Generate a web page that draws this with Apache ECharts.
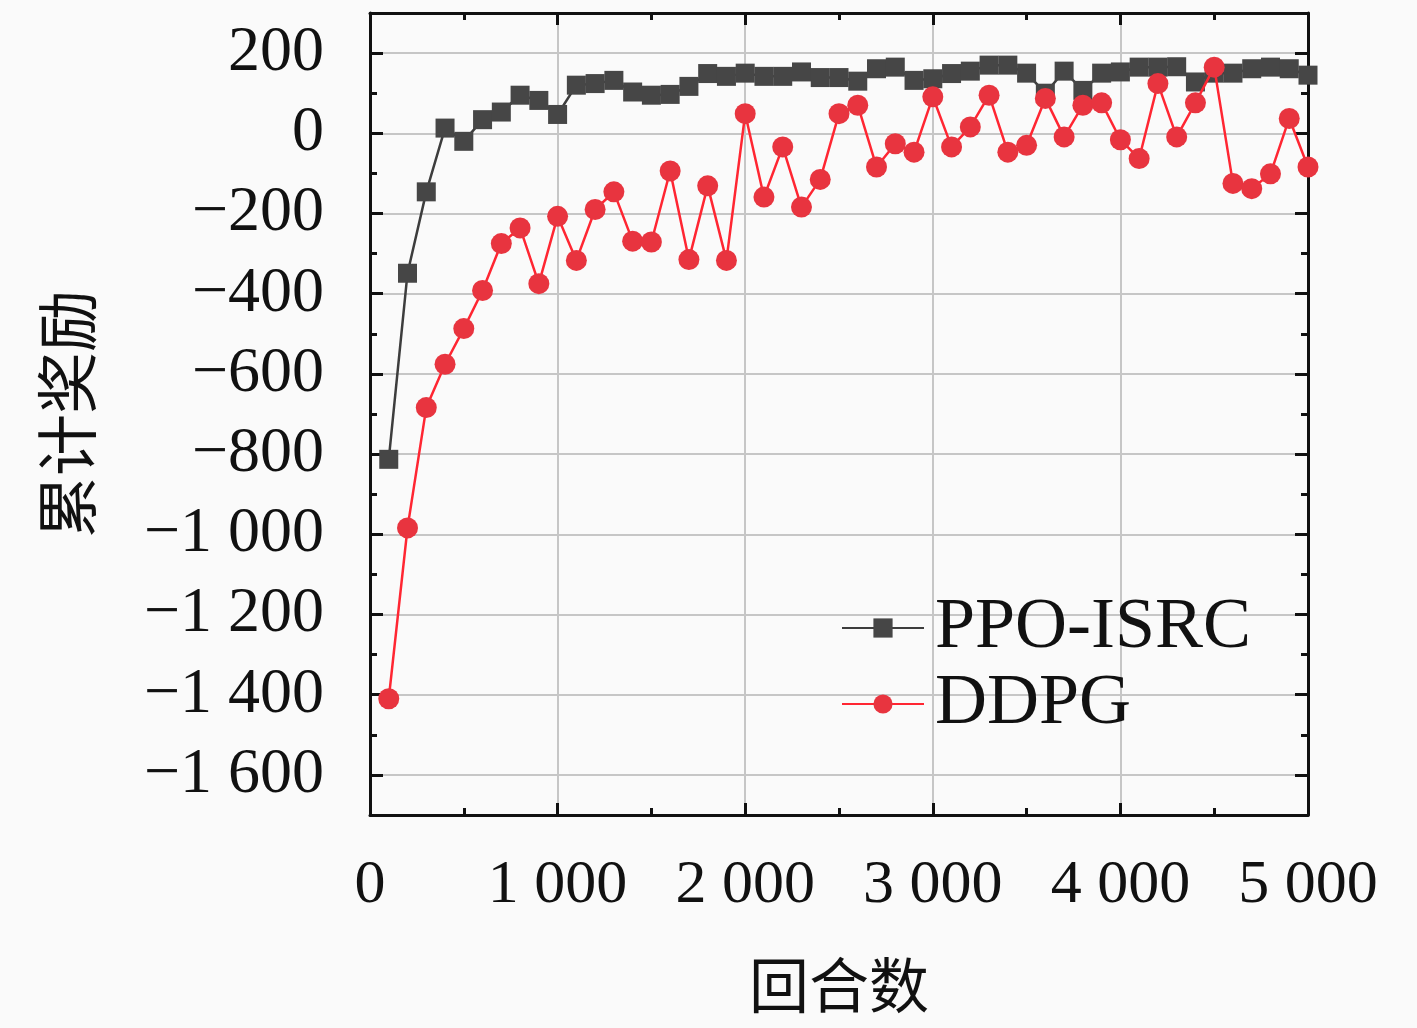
<!DOCTYPE html>
<html>
<head>
<meta charset="utf-8">
<script src="https://cdn.jsdelivr.net/npm/echarts@6/dist/echarts.min.js"></script>
<style>
html, body { margin: 0; padding: 0; background: #fafafa; }
#chart { width: 1417px; height: 1028px; }
</style>
</head>
<body>
<div id="chart"></div>
<script>
// 数据
var episodes = [100, 200, 300, 400, 500, 600, 700, 800, 900, 1000,
    1100, 1200, 1300, 1400, 1500, 1600, 1700, 1800, 1900, 2000,
    2100, 2200, 2300, 2400, 2500, 2600, 2700, 2800, 2900, 3000,
    3100, 3200, 3300, 3400, 3500, 3600, 3700, 3800, 3900, 4000,
    4100, 4200, 4300, 4400, 4500, 4600, 4700, 4800, 4900, 5000];
var ppoIsrc = [-813, -349, -146, 13, -20, 34, 53, 95, 82, 47,
    120, 124, 132, 103, 95, 97, 117, 149, 142, 150,
    142, 142, 153, 139, 139, 130, 161, 165, 132, 136,
    149, 155, 170, 170, 150, 100, 155, 107, 150, 153,
    165, 165, 166, 128, 150, 150, 161, 165, 161, 145];
var ddpg = [-1410, -984, -684, -576, -487, -392, -275, -236, -375, -207,
    -317, -190, -146, -269, -271, -94, -315, -131, -317, 49,
    -159, -34, -184, -115, 49, 70, -84, -26, -47, 91,
    -34, 16, 95, -47, -30, 87, -9, 70, 76, -16,
    -63, 124, -9, 76, 165, -125, -138, -101, 37, -84];
// 纵轴刻度（每 100 一个，200 的倍数为主刻度）
var yTicks = ['-1700', '-1600', '-1500', '-1400', '-1300', '-1200', '-1100', '-1000', '-900', '-800',
    '-700', '-600', '-500', '-400', '-300', '-200', '-100', '0', '100', '200', '300'];

var chart = echarts.init(document.getElementById('chart'));

function fmt(v) {
    var s = String(Math.abs(v)).replace(/\B(?=(\d{3})+(?!\d))/g, ' ');
    return (v < 0 ? '\u2212' : '') + s;
}

var axisColor = '#111';
var gridColor = '#c6c6c6';
var serif = 'Liberation Serif';
var cjk = 'Noto Sans CJK SC';

function isMajor(idx, val) { return Number(val) % 200 === 0; }

var borderLine = { onZero: false, lineStyle: { color: axisColor, width: 3 } };

var valueY = {
    type: 'value', min: -1700, max: 300, interval: 100
};

var option = {
    backgroundColor: '#fafafa',
    animation: false,
    grid: { left: 370, right: 109, top: 13, bottom: 213 },
    legend: {
        orient: 'vertical',
        left: 836,
        top: 587,
        itemWidth: 82,
        itemHeight: 24,
        itemGap: 4,
        textStyle: { fontFamily: serif, fontSize: 72, color: axisColor, lineHeight: 62, padding: [0, 0, 0, 6] },
        data: ['PPO-ISRC', 'DDPG']
    },
    xAxis: [{
        type: 'value', min: 0, max: 5000, interval: 1000, position: 'bottom',
        name: '回合数', nameLocation: 'middle', nameGap: 140,
        nameTextStyle: { fontFamily: cjk, fontSize: 60, color: axisColor },
        axisLine: borderLine,
        axisTick: { inside: true, length: 12, lineStyle: { color: axisColor, width: 3 } },
        minorTick: { show: true, splitNumber: 2, length: 7, lineStyle: { color: axisColor, width: 3 } },
        axisLabel: { formatter: fmt, fontFamily: serif, fontSize: 62, color: axisColor, margin: 40 },
        splitLine: { show: true, lineStyle: { color: gridColor, width: 2 } }
    }, {
        type: 'value', min: 0, max: 5000, interval: 1000, position: 'top',
        axisLine: borderLine,
        axisTick: { inside: true, length: 12, lineStyle: { color: axisColor, width: 3 } },
        minorTick: { show: true, splitNumber: 2, length: 7, lineStyle: { color: axisColor, width: 3 } },
        axisLabel: { show: false },
        splitLine: { show: false }
    }],
    yAxis: [echarts.util.merge({
        position: 'left',
        name: '累计奖励', nameLocation: 'middle', nameGap: 272,
        nameTextStyle: { fontFamily: cjk, fontSize: 62, color: axisColor },
        axisLine: borderLine,
        axisTick: { inside: true, length: 7, lineStyle: { color: axisColor, width: 3 } },
        axisLabel: {
            formatter: function (v) { return v % 200 === 0 ? fmt(v) : ''; },
            fontFamily: serif, fontSize: 64, color: axisColor, margin: 46
        },
        splitLine: { show: true, lineStyle: { color: ['rgba(0,0,0,0)', gridColor], width: 2 } }
    }, valueY, true), echarts.util.merge({
        position: 'right',
        axisLine: borderLine,
        axisTick: { inside: true, length: 7, lineStyle: { color: axisColor, width: 3 } },
        axisLabel: { show: false },
        splitLine: { show: false }
    }, valueY, true), {
        type: 'category', data: yTicks, boundaryGap: false, position: 'left',
        axisLine: { show: false, onZero: false },
        axisTick: { inside: true, length: 13, interval: isMajor, lineStyle: { color: axisColor, width: 3 } },
        axisLabel: { show: false },
        splitLine: { show: false }
    }, {
        type: 'category', data: yTicks, boundaryGap: false, position: 'right',
        axisLine: { show: false, onZero: false },
        axisTick: { inside: true, length: 13, interval: isMajor, lineStyle: { color: axisColor, width: 3 } },
        axisLabel: { show: false },
        splitLine: { show: false }
    }],
    series: [{
        name: 'PPO-ISRC',
        type: 'line',
        xAxisIndex: 0, yAxisIndex: 0,
        data: episodes.map(function (e, i) { return [e, ppoIsrc[i]]; }),
        symbol: 'rect', symbolSize: 19,
        lineStyle: { color: '#3d3d3d', width: 2.5 },
        itemStyle: { color: '#464646' },
        z: 3
    }, {
        name: 'DDPG',
        type: 'line',
        xAxisIndex: 0, yAxisIndex: 0,
        data: episodes.map(function (e, i) { return [e, ddpg[i]]; }),
        symbol: 'circle', symbolSize: 21,
        lineStyle: { color: '#ff2632', width: 2.5 },
        itemStyle: { color: '#e8343f' },
        z: 4
    }]
};

chart.setOption(option);
</script>
</body>
</html>
